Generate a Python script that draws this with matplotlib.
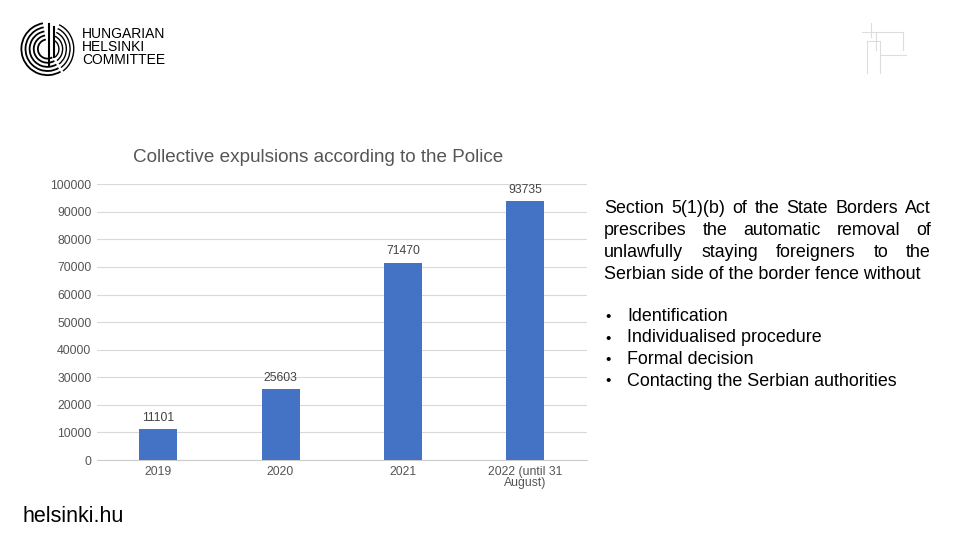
import matplotlib.pyplot as plt
from matplotlib.patches import Arc

plt.rcParams['font.family'] = ['Liberation Sans', 'DejaVu Sans']

# data
categories = ["2019", "2020", "2021", "2022 (until 31\nAugust)"]
expulsions = [11101, 25603, 71470, 93735]
yticks = list(range(0, 100001, 10000))

fig = plt.figure(figsize=(9.6, 5.4), dpi=100)
ax = fig.add_axes([0.101, 0.148, 0.51, 0.511])

x = range(len(categories))
bars = ax.bar(x, expulsions, width=0.31, color='#4472C4', zorder=3)
for b, v in zip(bars, expulsions):
    ax.annotate(str(v), (b.get_x() + b.get_width() / 2, v), xytext=(0, 4),
                textcoords='offset points', ha='center', va='bottom',
                fontsize=8.8, color='#444444')

ax.set_xlim(-0.5, len(categories) - 0.5)
ax.set_ylim(0, 100000)
ax.set_yticks(yticks)
ax.set_yticklabels([str(t) for t in yticks])
ax.set_xticks(list(x))
ax.set_xticklabels(categories, linespacing=0.95)
ax.tick_params(axis='both', length=0, labelsize=8.8, labelcolor='#555555', pad=4)
ax.grid(axis='y', color='#d9d9d9', linewidth=0.8, zorder=0)
for s in ['top', 'right', 'left']:
    ax.spines[s].set_visible(False)
ax.spines['bottom'].set_color('#cccccc')
ax.set_title("Collective expulsions according to the Police", fontsize=13.6,
             color='#555555', pad=16, x=0.451)

# right-hand text, justified lines
fig.canvas.draw()
renderer = fig.canvas.get_renderer()
x0, x1 = 604, 931
fs = 12.9
lines = ["Section 5(1)(b) of the State Borders Act",
         "prescribes the automatic removal of",
         "unlawfully staying foreigners to the"]
y = 213
for line in lines:
    words = line.split()
    texts = [fig.text(0, 0, w, fontsize=fs, color='black', va='baseline') for w in words]
    widths = [t.get_window_extent(renderer).width for t in texts]
    gap = (x1 - x0 - sum(widths)) / (len(words) - 1)
    pos = x0
    for t, w in zip(texts, widths):
        t.set_position((pos / 960, 1 - y / 540))
        pos += w + gap
    y += 22
fig.text(x0 / 960, 1 - y / 540, "Serbian side of the border fence without",
         fontsize=fs, va='baseline')

bullets = ["Identification", "Individualised procedure", "Formal decision",
           "Contacting the Serbian authorities"]
by = 321
for b in bullets:
    fig.text(605 / 960, 1 - by / 540, "•", fontsize=11, va='baseline')
    fig.text(627 / 960, 1 - by / 540, b, fontsize=fs, va='baseline')
    by += 21.5

# logo
fig.text(82 / 960, 1 - 47 / 540, "HUNGARIAN\nHELSINKI\nCOMMITTEE", fontsize=10,
         va='center', linespacing=0.95)
lax = fig.add_axes([20 / 960, 1 - 80 / 540, 55 / 960, 62 / 540])
lax.set_xlim(-1, 1)
lax.set_ylim(-1.1, 1.1)
lax.set_aspect('equal')
lax.axis('off')
for r in [0.95, 0.8, 0.65, 0.5, 0.35]:
    lax.add_patch(Arc((0, 0), 2 * r, 2 * r, theta1=100, theta2=300, color='black', lw=1.3))
    lax.add_patch(Arc((0.1, 0), 1.8 * r, 2 * r, theta1=-60, theta2=70, color='black', lw=1.0))
lax.plot([0.05, 0.05], [-0.6, 0.9], color='black', lw=1.5)
lax.plot([0.25, 0.25], [-0.3, 0.8], color='black', lw=1.5)

fig.text(22 / 960, 1 - 516 / 540, "helsinki.hu", fontsize=15.5, va='center')

# faint emblem top right
eax = fig.add_axes([862 / 960, 1 - 78 / 540, 45 / 960, 55 / 540])
eax.set_xlim(0, 10)
eax.set_ylim(0, 12)
eax.axis('off')
for xs, ys in [([1, 1, 4, 4], [1, 8, 8, 1]), ([3, 3, 9, 9], [6, 10, 10, 6]),
               ([4, 10], [5, 5]), ([0, 3], [10, 10]), ([2, 2], [9, 12])]:
    eax.plot(xs, ys, color='#dddddd', lw=0.8)

fig.savefig("out.png", dpi=100)
